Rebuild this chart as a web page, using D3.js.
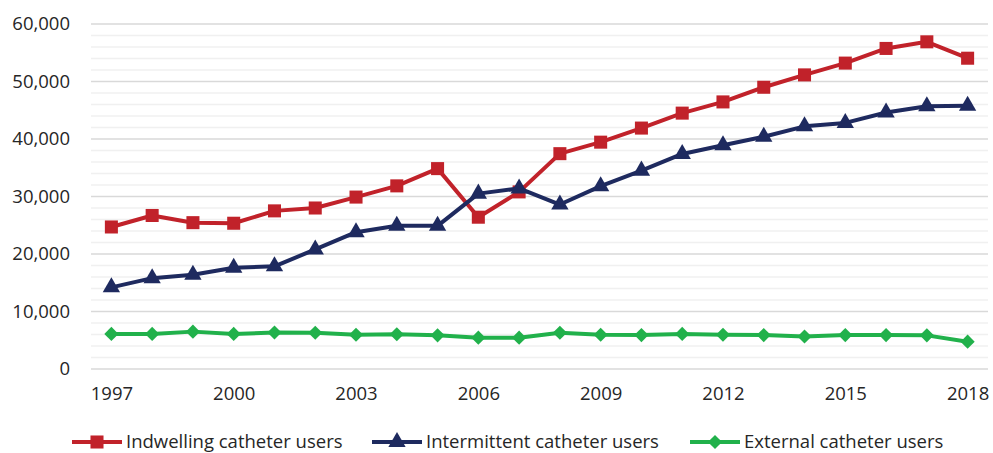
<!DOCTYPE html>
<html>
<head>
<meta charset="utf-8">
<script src="https://cdn.jsdelivr.net/npm/d3@7"></script>
<style>
  body { margin: 0; background: #fff; }
  text { font-family: "Open Sans", sans-serif; fill: #262626; }
</style>
</head>
<body>
<div id="chart"></div>
<script>
// data
const years = d3.range(1997, 2019);
const indwelling = [24700, 26700, 25450, 25350, 27500, 28000, 29900, 31850, 34850, 26400, 30800,
                    37450, 39450, 41900, 44500, 46450, 49000, 51150, 53200, 55750, 56900, 54050];
const intermittent = [14200, 15800, 16400, 17600, 17850, 20800, 23800, 24900, 24900, 30500, 31400,
                      28600, 31800, 34500, 37400, 38900, 40400, 42200, 42800, 44600, 45700, 45800];
const external = [6100, 6100, 6500, 6100, 6350, 6300, 5950, 6050, 5850, 5450, 5450,
                  6300, 5950, 5900, 6100, 5950, 5900, 5650, 5900, 5900, 5850, 4750];
const xTickYears = [1997, 2000, 2003, 2006, 2009, 2012, 2015, 2018];
const yTicks = [0, 10000, 20000, 30000, 40000, 50000, 60000];

const series = [
  { name: "Indwelling catheter users", values: indwelling, color: "#C1222A", symbol: d3.symbolSquare, size: 170, rot: 0 },
  { name: "Intermittent catheter users", values: intermittent, color: "#1E2A5F", symbol: d3.symbolTriangle, size: 130, rot: 0 },
  { name: "External catheter users", values: external, color: "#21B14B", symbol: d3.symbolSquare, size: 100, rot: 45 }
];

const W = 993, H = 453;
const margin = { top: 24, right: 5, bottom: 84, left: 91 },
      width = W - margin.left - margin.right,
      height = H - margin.top - margin.bottom;

const svg = d3.select("#chart").append("svg")
    .attr("width", W).attr("height", H)
  .append("g")
    .attr("transform", `translate(${margin.left},${margin.top})`);

const x = d3.scalePoint().domain(years).range([0, width]).padding(0.5);
const y = d3.scaleLinear().domain([0, 60000]).range([height, 0]);

// minor gridlines every 2,000
svg.append("g").selectAll("line")
  .data(d3.range(2000, 60000, 2000).filter(v => v % 10000 !== 0))
  .join("line")
    .attr("x1", 0).attr("x2", width)
    .attr("y1", d => y(d)).attr("y2", d => y(d))
    .attr("stroke", "#F0F0F0").attr("stroke-width", 1.5);

// major gridlines
svg.append("g").selectAll("line")
  .data(yTicks)
  .join("line")
    .attr("x1", 0).attr("x2", width)
    .attr("y1", d => y(d)).attr("y2", d => y(d))
    .attr("stroke", "#D9D9D9").attr("stroke-width", 1.5);

// y axis labels
const yAxis = svg.append("g")
  .call(d3.axisLeft(y).tickValues(yTicks).tickFormat(d3.format(",")).tickSize(0).tickPadding(21));
yAxis.select(".domain").remove();
yAxis.selectAll("text").style("font-size", "18.5px").attr("fill", "#262626");

// x axis labels
const xAxis = svg.append("g")
  .attr("transform", `translate(0,${height})`)
  .call(d3.axisBottom(x).tickValues(xTickYears).tickSize(0).tickPadding(18));
xAxis.select(".domain").remove();
xAxis.selectAll("text").style("font-size", "18.5px").attr("fill", "#262626");

// lines and markers
const line = d3.line().x((d, i) => x(years[i])).y(d => y(d));

series.forEach(s => {
  svg.append("path")
    .datum(s.values)
    .attr("d", line)
    .attr("fill", "none")
    .attr("stroke", s.color)
    .attr("stroke-width", 4)
    .attr("stroke-linejoin", "round");

  svg.append("g").selectAll("path")
    .data(s.values)
    .join("path")
      .attr("transform", (d, i) => `translate(${x(years[i])},${y(d)}) rotate(${s.rot})`)
      .attr("d", d3.symbol().type(s.symbol).size(s.size))
      .attr("fill", s.color);
});

// legend
const legendX = [72, 372, 690];
const legend = svg.append("g").attr("transform", `translate(${-margin.left},${-margin.top})`);
series.forEach((s, i) => {
  const g = legend.append("g").attr("transform", `translate(${legendX[i]},442)`);
  g.append("line").attr("x1", 0).attr("x2", 50)
    .attr("stroke", s.color).attr("stroke-width", 4);
  g.append("path").attr("transform", `translate(25,0) rotate(${s.rot})`)
    .attr("d", d3.symbol().type(s.symbol).size(s.size)).attr("fill", s.color);
  g.append("text").attr("x", 54).attr("dy", "0.35em")
    .style("font-size", "18.5px").text(s.name);
});
</script>
</body>
</html>
